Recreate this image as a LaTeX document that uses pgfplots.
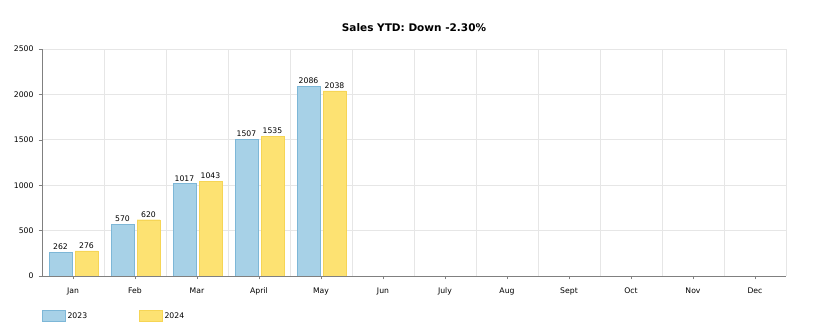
\documentclass[border=0pt]{standalone}
\usepackage{pgfplots}
\pgfplotsset{compat=1.18}
\usepackage{fontspec}
\setmainfont{DejaVu Sans}
\definecolor{bluefill}{HTML}{A7D1E7}
\definecolor{blueedge}{HTML}{7DB7D7}
\definecolor{yelfill}{HTML}{FDE272}
\definecolor{yeledge}{HTML}{F6D555}
\definecolor{gridc}{HTML}{E6E6E6}
\definecolor{axisc}{HTML}{808080}
\begin{document}
\begin{tikzpicture}
\useasboundingbox (0,0) rectangle (813pt,334pt);
\begin{axis}[
  at={(42pt,58pt)}, anchor=south west,
  scale only axis, width=744pt, height=227pt,
  xmin=-0.5, xmax=11.5, ymin=0, ymax=2500,
  axis lines=left, axis line style={axisc, -},
  xtick={0,...,11},
  xticklabels={Jan,Feb,Mar,April,May,Jun,July,Aug,Sept,Oct,Nov,Dec},
  minor xtick={0.5,1.5,...,11.5},
  ytick={0,500,...,2500},
  xminorgrids=true, ymajorgrids=true,
  minor grid style={gridc, line width=0.6pt},
  major grid style={gridc, line width=0.6pt},
  minor tick length=0pt,
  major tick length=3.5pt, tick align=outside,
  tick style={axisc},
  ticklabel style={font=\fontsize{7.7}{9}\selectfont},
  xticklabel style={yshift=-5pt},
  yticklabel style={xshift=-1.5pt},
  /pgf/number format/assume math mode=true,
  /pgf/number format/1000 sep={},
  scaled y ticks=false,
  title={Sales YTD: Down -2.30\%},
  title style={at={(0.5,1)}, anchor=center, yshift=15pt, font=\fontsize{10.5}{12}\selectfont\bfseries},
  ybar, bar width=23pt,
  nodes near coords,
  every node near coord/.append style={font=\fontsize{7.7}{9}\selectfont, black, yshift=-1pt},
  legend columns=2,
  legend style={at={(0,-0.176)}, anchor=west, draw=none, fill=none, inner sep=0pt,
    font=\fontsize{7.7}{9}\selectfont,
    /tikz/every even column/.append style={column sep=50pt}},
]
\addplot[fill=bluefill, draw=blueedge, bar shift=-12.5pt,
  legend image code/.code={\draw[fill=bluefill, draw=blueedge] (0pt,-5.5pt) rectangle (23pt,5.5pt);}]
  coordinates {(0,262) (1,570) (2,1017) (3,1507) (4,2086)};
\addplot[fill=yelfill, draw=yeledge, bar shift=13.5pt,
  legend image code/.code={\draw[fill=yelfill, draw=yeledge] (0pt,-5.5pt) rectangle (23pt,5.5pt);}]
  coordinates {(0,276) (1,620) (2,1043) (3,1535) (4,2038)};
\legend{2023,2024}
\end{axis}
\end{tikzpicture}
\end{document}
